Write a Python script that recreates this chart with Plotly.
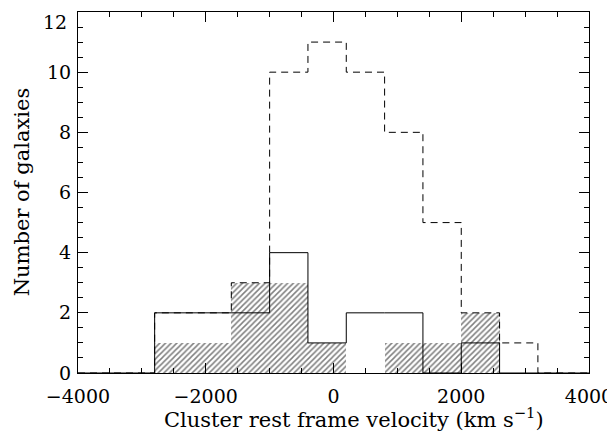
import plotly.graph_objects as go

# Histogram bin edges (km/s) and counts
bin_edges = [-2800, -2200, -1600, -1000, -400, 200, 800, 1400, 2000, 2600, 3200]
total_counts = [2, 2, 3, 10, 11, 10, 8, 5, 2, 1]      # dashed
solid_counts = [2, 2, 2, 4, 1, 2, 2, 0, 1, 0]         # solid
hatched_counts = [1, 1, 3, 3, 1, 0, 1, 1, 2, 0]       # hatched

x_range = [-4000, 4000]
y_range = [0, 12]
y_tickvals = [0, 2, 4, 6, 8, 10, 12]
y_ticklabels = ["0", "2", "4", "6", "8", "10", "12"]
x_title = "Cluster rest frame velocity (km s<sup>−1</sup>)"
y_title = "Number of galaxies"

FONT = "DejaVu Serif"

centers = [(a + b) / 2 for a, b in zip(bin_edges[:-1], bin_edges[1:])]
widths = [b - a for a, b in zip(bin_edges[:-1], bin_edges[1:])]


def step_xy(counts):
    xs = [x_range[0]] + list(bin_edges) + [x_range[1]]
    ys = [0] + list(counts) + [0, 0]
    return xs, ys


fig = go.Figure()

fig.add_trace(go.Bar(
    x=centers, y=hatched_counts, width=widths,
    marker=dict(color="white", line=dict(width=0),
                pattern=dict(shape="/", fgcolor="black", bgcolor="white",
                             size=4, solidity=0.38, fillmode="overlay")),
    showlegend=False, hoverinfo="skip",
))

xs, ys = step_xy(total_counts)
fig.add_trace(go.Scatter(x=xs, y=ys, mode="lines", line_shape="hv",
                         line=dict(color="black", width=1, dash="7px,5px"),
                         showlegend=False))
xs, ys = step_xy(solid_counts)
fig.add_trace(go.Scatter(x=xs, y=ys, mode="lines", line_shape="hv",
                         line=dict(color="black", width=1),
                         showlegend=False))

axis_common = dict(
    showline=True, linecolor="black", linewidth=1, mirror="allticks",
    ticks="inside", ticklen=10, tickwidth=1, tickcolor="black",
    showgrid=False, zeroline=False, automargin=False,
    ticklabeloverflow="allow",
    tickfont=dict(family=FONT, size=19, color="black"),
)

fig.update_xaxes(range=x_range, dtick=2000, tick0=-4000, ticklabelstandoff=6,
                 minor=dict(dtick=500, ticklen=5, ticks="inside", tickcolor="black", showgrid=False),
                 **axis_common)
# the top label would fall outside the page, so it is drawn as an annotation just below its tick
fig.update_yaxes(range=y_range, tickmode="array", tickvals=y_tickvals,
                 ticktext=y_ticklabels[:-1] + [""], ticklabelstandoff=2,
                 minor=dict(dtick=0.5, ticklen=5, ticks="inside", tickcolor="black", showgrid=False),
                 **axis_common)
fig.add_annotation(text=y_ticklabels[-1], xref="paper", yref="y", x=0, y=y_tickvals[-1],
                   xanchor="right", yanchor="top", xshift=-9, yshift=3, showarrow=False,
                   font=dict(family=FONT, size=19, color="black"))

fig.add_annotation(text=x_title, xref="paper", yref="paper", x=0.54, y=-0.125,
                   xanchor="center", yanchor="middle", showarrow=False,
                   font=dict(family=FONT, size=21, color="black"))
fig.add_annotation(text=y_title, xref="paper", yref="paper", x=-0.11, y=0.5,
                   xanchor="center", yanchor="middle", showarrow=False, textangle=-90,
                   font=dict(family=FONT, size=21, color="black"))

# page body has an 8px margin, so the figure is sized/offset to compensate
fig.update_layout(
    width=607, height=426,
    margin=dict(l=70, r=26, t=4, b=61),
    paper_bgcolor="white", plot_bgcolor="white",
    barmode="overlay", bargap=0,
    font=dict(family=FONT, color="black"),
)

fig.write_html("out.html")
